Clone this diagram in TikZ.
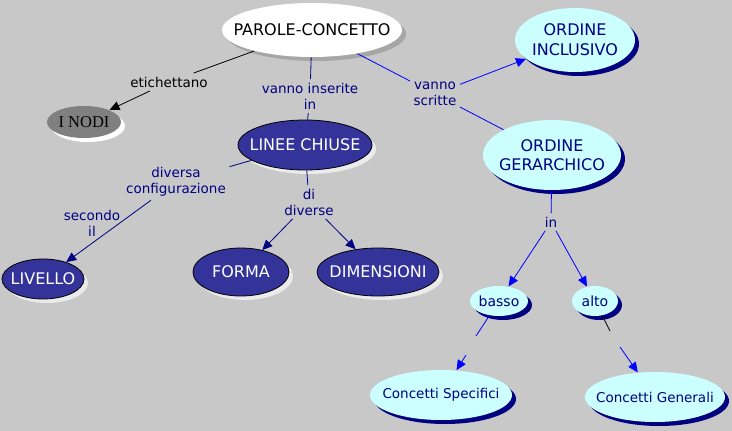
\documentclass[tikz,border=0pt]{standalone}
\usepackage{fontspec}
\setmainfont{DejaVu Sans}
\newfontfamily\nodifont{Liberation Serif}
\usetikzlibrary{shapes.geometric,shadows,arrows.meta}
\definecolor{sfondo}{RGB}{200,200,200}
\definecolor{blunotte}{RGB}{0,0,128}
\definecolor{bluscuro}{RGB}{51,51,153}
\definecolor{azzurro}{RGB}{204,255,255}
\definecolor{blu}{RGB}{0,0,255}
\begin{document}
\begin{tikzpicture}[x=1pt,y=-1pt,>={Triangle[length=10pt,width=9pt]},line width=.8pt,
concetto/.style={ellipse,inner sep=0pt},
ombra/.style={drop shadow={shadow xshift=4pt,shadow yshift=-4pt,fill=#1,opacity=1}},
nodobianco/.style={concetto,fill=white,ombra=black!35},
nodogrigio/.style={concetto,fill=black!50,ombra=white},
nodoblu/.style={concetto,fill=bluscuro,draw=black,ombra=black!8},
nodoazzurro/.style={concetto,fill=azzurro,ombra=blunotte},
testo/.style={align=center,inner sep=0pt,font=\fontsize{16}{20}\selectfont},
testoblu/.style={testo,text=white},
testoazzurro/.style={testo,text=blunotte},
frase/.style={align=center,text=blunotte,font=\fontsize{13.5}{16}\selectfont}]
\fill[sfondo](0,0)rectangle(732,431);
\useasboundingbox(0,0)rectangle(732,431);
% concetti
\node[nodobianco,minimum width=180pt,minimum height=54pt,label={[testo]center:PAROLE-CONCETTO}](parole)at(312,30){};
\node[nodogrigio,minimum width=74pt,minimum height=32pt,label={[testo,font=\nodifont\fontsize{16.5}{18}\selectfont]center:I NODI}](nodi)at(84,122){};
\node[nodoblu,minimum width=134pt,minimum height=50pt,label={[testoblu]center:LINEE CHIUSE}](linee)at(305,145){};
\node[nodoblu,minimum width=82pt,minimum height=40pt,label={[testoblu]center:LIVELLO}](livello)at(43,279){};
\node[nodoblu,minimum width=96pt,minimum height=48pt,label={[testoblu]center:FORMA}](forma)at(241,272){};
\node[nodoblu,minimum width=122pt,minimum height=48pt,label={[testoblu]center:DIMENSIONI}](dimensioni)at(378,272){};
\node[nodoazzurro,minimum width=120pt,minimum height=64pt,label={[testoazzurro]center:ORDINE\\INCLUSIVO}](inclusivo)at(575,40){};
\node[nodoazzurro,minimum width=138pt,minimum height=70pt,label={[testoazzurro,font=\fontsize{16}{19}\selectfont]center:ORDINE\\GERARCHICO}](gerarchico)at(552,155){};
\node[nodoazzurro,minimum width=58pt,minimum height=30pt,label={[testoazzurro,font=\fontsize{14}{16}\selectfont]center:basso}](basso)at(499,301){};
\node[nodoazzurro,minimum width=46pt,minimum height=30pt,label={[testoazzurro,font=\fontsize{14}{16}\selectfont]center:alto}](alto)at(595,301){};
\node[nodoazzurro,minimum width=142pt,minimum height=50pt,label={[testoazzurro,font=\fontsize{13.5}{16}\selectfont]center:Concetti Specifici}](specifici)at(441,395){};
\node[nodoazzurro,minimum width=140pt,minimum height=50pt,label={[testoazzurro,font=\fontsize{13.5}{16}\selectfont]center:Concetti Generali}](generali)at(655,397){};
% frasi legame
\node[frase,text=black](etichettano)at(169,82){etichettano};
\node[frase](inserite)at(310,96){vanno inserite\\in};
\node[frase](scritte)at(435,94){vanno\\scritte};
\node[frase](configurazione)at(176,182){diversa\\configurazione};
\node[frase](secondo)at(92,223){secondo\\il};
\node[frase](didiverse)at(309,202){di\\diverse};
\node[frase](in)at(551,222){in};
\coordinate(sA)at(476,336);
\coordinate(sB)at(466,355);
\coordinate(gA)at(610,331);
\coordinate(gB)at(620,347);
% collegamenti
\draw(parole)--(etichettano);
\draw[->](etichettano)--(nodi);
\draw[blunotte](parole)--(inserite);
\draw[blunotte](inserite)--(linee);
\draw[blu](parole)--(scritte);
\draw[blu,->](scritte)--(inclusivo);
\draw[blu](scritte)--(gerarchico);
\draw[blunotte](linee)--(configurazione);
\draw[blunotte,->](configurazione)--(livello);
\draw[blunotte](linee)--(didiverse);
\draw[blunotte,->](didiverse)--(forma);
\draw[blunotte,->](didiverse)--(dimensioni);
\draw[blu](gerarchico)--(in);
\draw[blu,->](in)--(basso);
\draw[blu,->](in)--(alto);
\draw[blu](basso)--(sA);
\draw[blu,->](sB)--(specifici);
\draw(alto)--(gA);
\draw[blu,->](gB)--(generali);

\end{tikzpicture}
\end{document}
